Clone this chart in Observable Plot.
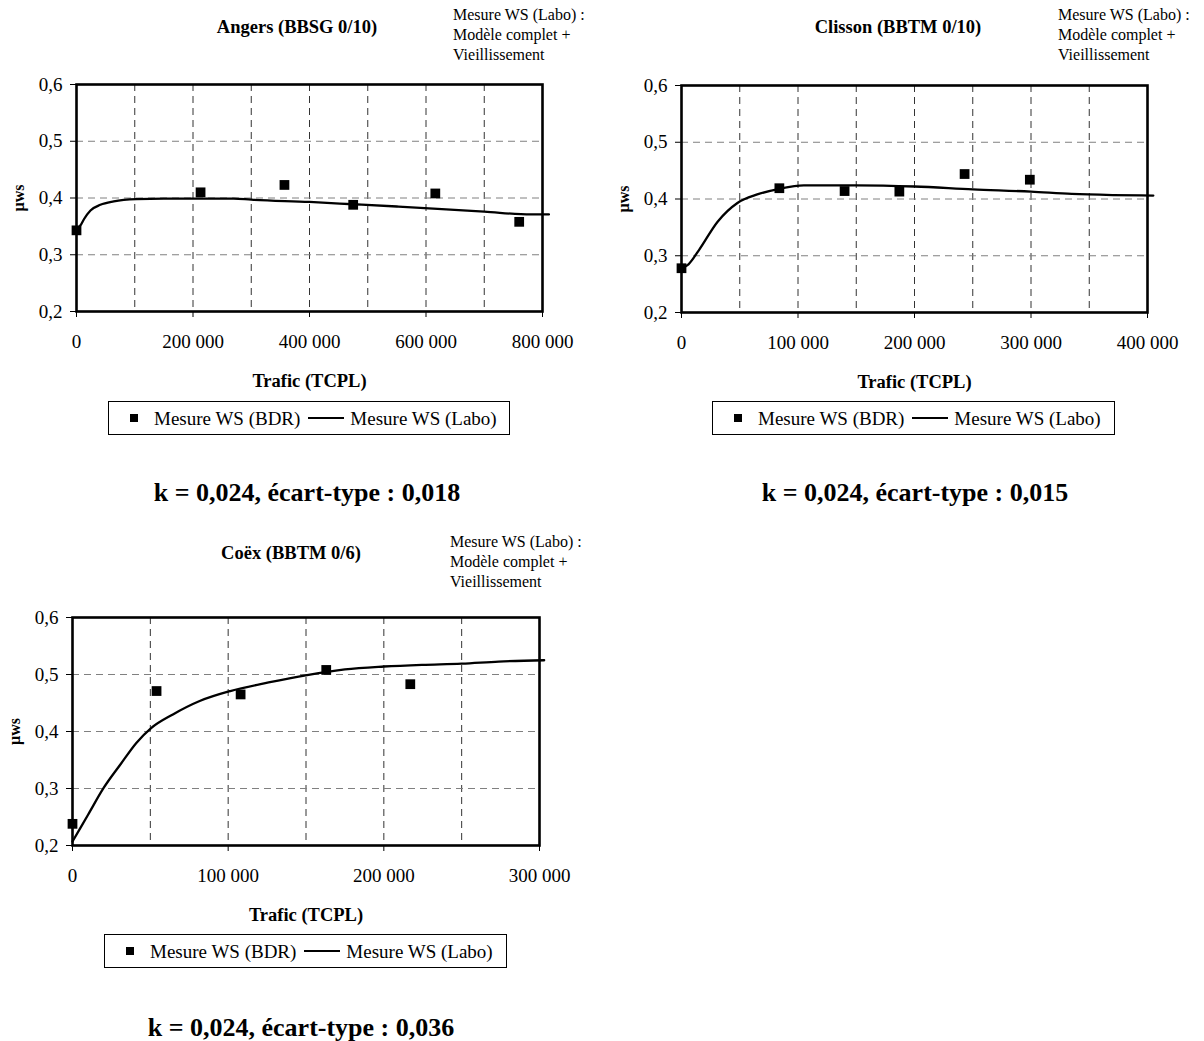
<!DOCTYPE html>
<html>
<head>
<meta charset="utf-8">
<script src="https://cdn.jsdelivr.net/npm/d3@7"></script>
<script src="https://cdn.jsdelivr.net/npm/@observablehq/plot@0.6"></script>
<style>
  html, body { margin: 0; padding: 0; background: #fff; }
  #page { position: relative; width: 1204px; height: 1041px; overflow: hidden; font-family: "Liberation Serif", "Times New Roman", serif; color: #000; }
  .abs { position: absolute; white-space: nowrap; line-height: 1; }
  .center { transform: translate(-50%, -50%); }
  .title { font-weight: bold; font-size: 18.5px; }
  .annot { font-size: 16px; line-height: 20px; }
  .ktext { font-weight: bold; font-size: 26px; }
  .legend { border: 1px solid #000; box-sizing: border-box; display: flex; align-items: center; font-size: 19px; background: #fff; }
  .legend .sq { display: inline-block; width: 8px; height: 8px; background: #000; margin: 0 16px 0 21px; }
  .legend .ln { display: inline-block; width: 36px; height: 2px; background: #000; margin: 0 6px 0 8px; }
  .panel svg { overflow: visible; }
  .panel [aria-label="x-axis label"] { font-weight: bold; font-size: 18.5px; }
  .panel [aria-label="y-axis label"] { font-weight: bold; font-size: 16px; }
</style>
</head>
<body>
<div id="page"></div>
<script>
// ---------- data ----------
const yTicks = [0.2, 0.3, 0.4, 0.5, 0.6];
const yGrid = [0.3, 0.4, 0.5];

// Angers (BBSG 0/10)
const angersXTicks = [0, 200000, 400000, 600000, 800000];
const angersXGrid = [100000, 200000, 300000, 400000, 500000, 600000, 700000];
const angersBdrTraffic = [0, 213000, 357000, 475000, 616000, 760000];
const angersBdrMu = [0.343, 0.410, 0.423, 0.388, 0.408, 0.358];
const angersLaboTraffic = [0, 7000, 13000, 24000, 41000, 64000, 103000, 150000, 270000, 300000, 400000, 475000, 550000, 620000, 700000, 780000, 811000];
const angersLaboMu = [0.343, 0.352, 0.363, 0.378, 0.388, 0.394, 0.398, 0.399, 0.399, 0.397, 0.393, 0.389, 0.385, 0.381, 0.376, 0.371, 0.371];

// Clisson (BBTM 0/10)
const clissonXTicks = [0, 100000, 200000, 300000, 400000];
const clissonXGrid = [50000, 100000, 150000, 200000, 250000, 300000, 350000];
const clissonBdrTraffic = [0, 84000, 140000, 187000, 243000, 299000];
const clissonBdrMu = [0.278, 0.419, 0.414, 0.413, 0.444, 0.434];
const clissonLaboTraffic = [0, 6000, 15000, 31000, 48000, 65000, 84000, 105000, 150000, 200000, 250000, 300000, 335000, 370000, 405000];
const clissonLaboMu = [0.278, 0.285, 0.310, 0.360, 0.393, 0.408, 0.418, 0.424, 0.424, 0.422, 0.417, 0.413, 0.409, 0.407, 0.406];

// Coëx (BBTM 0/6)
const coexXTicks = [0, 100000, 200000, 300000];
const coexXGrid = [50000, 100000, 150000, 200000, 250000];
const coexBdrTraffic = [0, 54000, 108000, 163000, 217000];
const coexBdrMu = [0.238, 0.471, 0.465, 0.508, 0.483];
const coexLaboTraffic = [0, 10000, 20000, 31000, 41000, 50500, 64500, 81700, 101400, 126000, 150700, 175000, 200000, 224500, 250000, 273800, 303000];
const coexLaboMu = [0.207, 0.254, 0.301, 0.343, 0.380, 0.406, 0.430, 0.4535, 0.471, 0.486, 0.499, 0.509, 0.514, 0.517, 0.519, 0.5227, 0.525];

const titles = ["Angers (BBSG 0/10)", "Clisson (BBTM 0/10)", "Coëx (BBTM 0/6)"];
const annotationLines = ["Mesure WS (Labo) :", "Modèle complet +", "Vieillissement"];
const kTexts = ["k = 0,024, écart-type : 0,018", "k = 0,024, écart-type : 0,015", "k = 0,024, écart-type : 0,036"];
const legendLabels = ["Mesure WS (BDR)", "Mesure WS (Labo)"];
const xLabel = "Trafic (TCPL)";
const yLabel = "µws";

// ---------- helpers ----------
const FONT = '"Liberation Serif", "Times New Roman", serif';
const fr = d3.formatLocale({decimal: ",", thousands: "\u00a0", grouping: [3], currency: ["", " €"]});
const fmtX = fr.format(",d");
const fmtY = fr.format(".1f");
const page = document.getElementById("page");

function el(cls, x, y, html) {
  const d = document.createElement("div");
  d.className = "abs " + cls;
  d.style.left = x + "px";
  d.style.top = y + "px";
  d.innerHTML = html;
  page.appendChild(d);
  return d;
}

function panel(cfg) {
  const [fx0, fx1, fy0, fy1] = cfg.frame;
  const mL = 76, mR = 40, mT = 20, mB = 90;
  const W = fx1 - fx0 + mL + mR;
  const H = fy1 - fy0 + mT + mB;
  const bdr = cfg.bdrX.map((x, i) => ({x, y: cfg.bdrY[i]}));
  const labo = cfg.laboX.map((x, i) => ({x, y: cfg.laboY[i]}));
  const chart = Plot.plot({
    width: W, height: H,
    marginLeft: mL, marginRight: mR, marginTop: mT, marginBottom: mB,
    style: {fontFamily: FONT, fontSize: "19px", color: "#000", background: "transparent", overflow: "visible"},
    x: {domain: [0, cfg.xMax]},
    y: {domain: [0.2, 0.6]},
    marks: [
      Plot.gridX(cfg.xGrid, {stroke: "#333", strokeOpacity: 1, strokeWidth: 1, strokeDasharray: "7,5"}),
      Plot.gridY(yGrid, {stroke: "#808080", strokeOpacity: 1, strokeWidth: 1, strokeDasharray: "7,5"}),
      Plot.axisX(cfg.xTicks, {tickFormat: fmtX, tickSize: 6, tickPadding: 17, label: xLabel, labelAnchor: "center", labelArrow: "none", labelOffset: 75}),
      Plot.axisY(yTicks, {tickFormat: fmtY, tickSize: 6, tickPadding: 8, label: yLabel, labelAnchor: "center", labelArrow: "none", labelOffset: 64}),
      Plot.frame({stroke: "#000", strokeWidth: 2.6}),
      Plot.line(labo, {x: "x", y: "y", curve: "monotone-x", stroke: "#000", strokeWidth: 2.3}),
      Plot.dot(bdr, {x: "x", y: "y", symbol: "square", r: 5.5, fill: "#000", stroke: "none"})
    ]
  });
  const wrap = document.createElement("div");
  wrap.className = "abs panel";
  wrap.style.left = (fx0 - mL) + "px";
  wrap.style.top = (fy0 - mT) + "px";
  wrap.appendChild(chart);
  page.appendChild(wrap);

  el("title center", cfg.titlePos[0], cfg.titlePos[1], cfg.title);
  el("annot", cfg.annotPos[0], cfg.annotPos[1] - 10, annotationLines.join("<br>"));
  const lg = el("legend", cfg.legend[0], cfg.legend[1],
    `<span class="sq"></span><span>${legendLabels[0]}</span><span class="ln"></span><span>${legendLabels[1]}</span>`);
  lg.style.width = cfg.legend[2] + "px";
  lg.style.height = cfg.legend[3] + "px";
  el("ktext center", cfg.kPos[0], cfg.kPos[1], cfg.k);
}

panel({
  frame: [76, 542, 84, 311], xMax: 800000, xTicks: angersXTicks, xGrid: angersXGrid,
  bdrX: angersBdrTraffic, bdrY: angersBdrMu, laboX: angersLaboTraffic, laboY: angersLaboMu,
  title: titles[0], titlePos: [297, 27], annotPos: [453, 15],
  legend: [108, 401, 402, 34], k: kTexts[0], kPos: [307, 493]
});
panel({
  frame: [681, 1147, 85, 312], xMax: 400000, xTicks: clissonXTicks, xGrid: clissonXGrid,
  bdrX: clissonBdrTraffic, bdrY: clissonBdrMu, laboX: clissonLaboTraffic, laboY: clissonLaboMu,
  title: titles[1], titlePos: [898, 27], annotPos: [1058, 15],
  legend: [712, 401, 403, 34], k: kTexts[1], kPos: [915, 493]
});
panel({
  frame: [72, 539, 617, 845], xMax: 300000, xTicks: coexXTicks, xGrid: coexXGrid,
  bdrX: coexBdrTraffic, bdrY: coexBdrMu, laboX: coexLaboTraffic, laboY: coexLaboMu,
  title: titles[2], titlePos: [291, 553], annotPos: [450, 542],
  legend: [104, 934, 403, 34], k: kTexts[2], kPos: [301, 1028]
});
</script>
</body>
</html>
